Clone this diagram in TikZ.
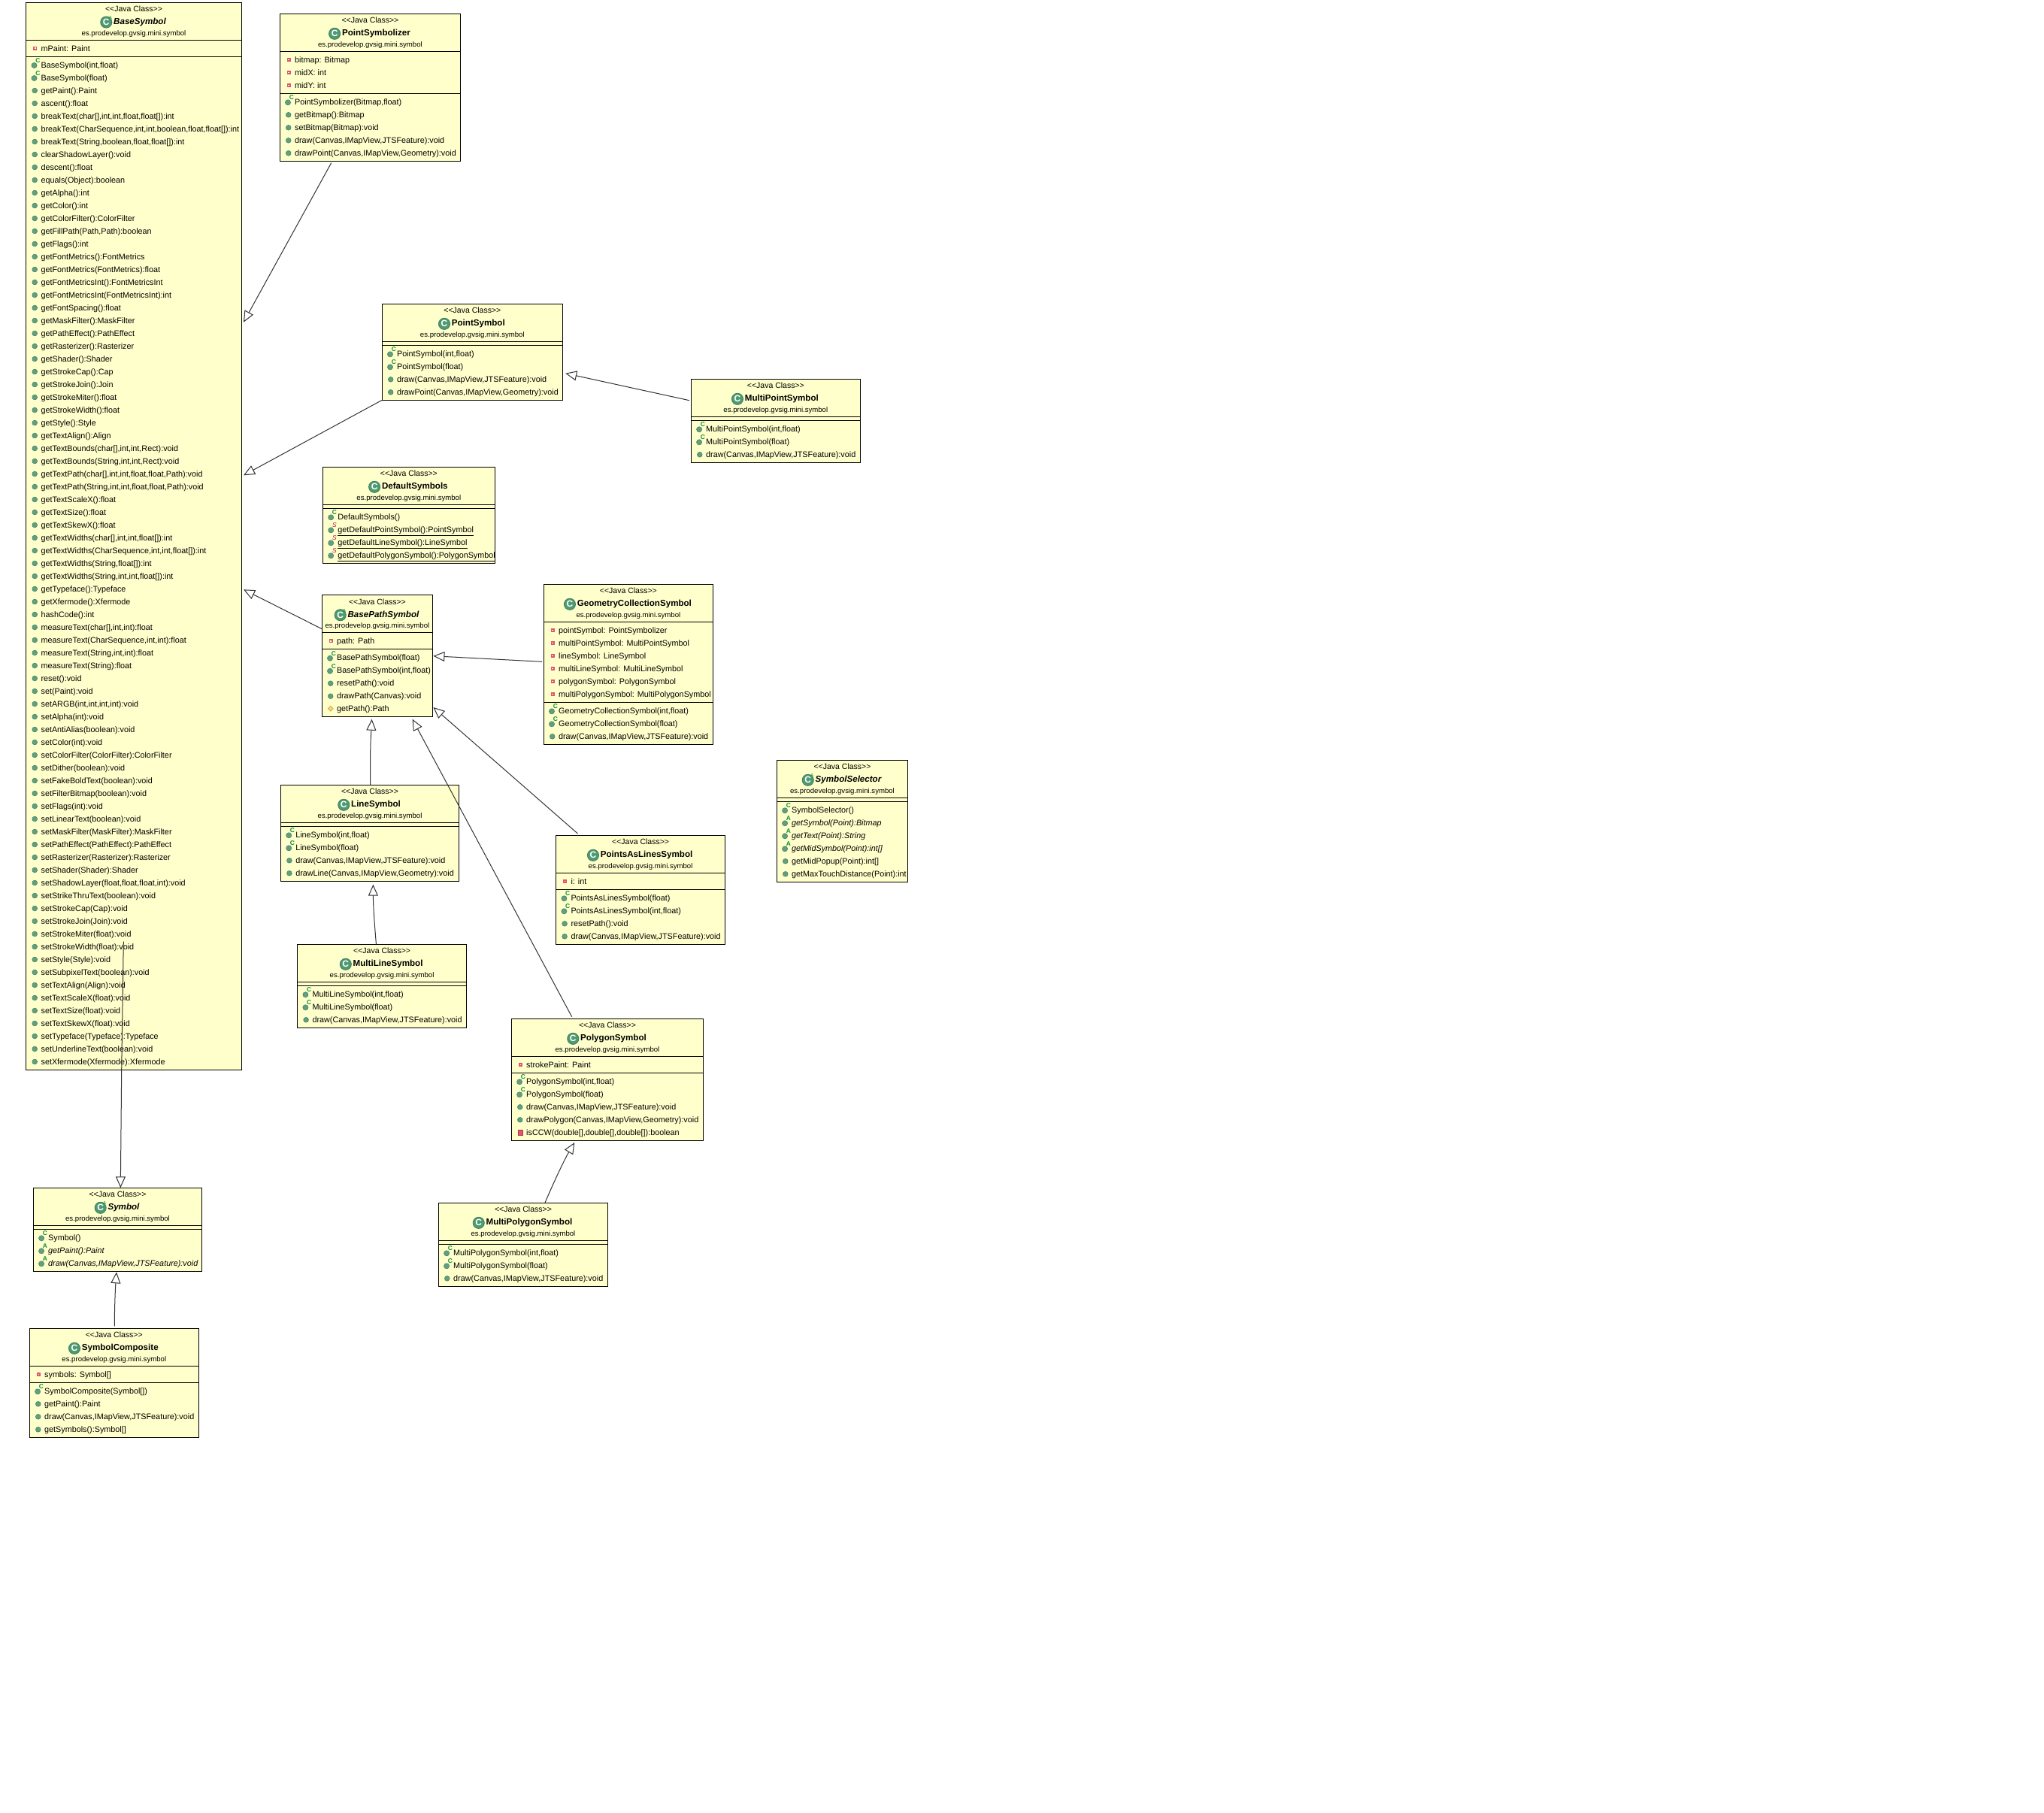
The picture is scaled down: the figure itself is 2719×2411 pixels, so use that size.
\documentclass[tikz,border=0pt]{standalone}
\usepackage{fontspec}
\setmainfont{Liberation Sans}
\usetikzlibrary{calc,arrows.meta}
\definecolor{boxfill}{HTML}{FFFFCC}
\definecolor{dotfill}{HTML}{629F80}
\definecolor{dotline}{HTML}{3E7F5E}
\definecolor{iconfill}{HTML}{4F9A72}
\definecolor{supgreen}{HTML}{128A3A}
\definecolor{supred}{HTML}{B0104E}
\definecolor{privfill}{HTML}{E0566F}
\definecolor{privline}{HTML}{B23A50}
\definecolor{protfill}{HTML}{F5D27A}
\definecolor{protline}{HTML}{C49A3A}
\definecolor{connline}{HTML}{333333}
\newcommand\fsize[1]{\fontsize{#1}{#1}\selectfont}
\tikzset{
  classbox/.style={draw=black,fill=boxfill,line width=0.5pt,inner sep=0pt,outer sep=0pt,anchor=north west},
  rule/.style={draw=black,line width=0.5pt},
  stereo/.style={inner sep=0pt,anchor=base,font=\fsize{5.25}},
  titletext/.style={inner sep=0pt,anchor=base,font=\fsize{5.8}\bfseries},
  pkgtext/.style={inner sep=0pt,anchor=base,font=\fsize{4.8}},
  rowtext/.style={inner sep=0pt,anchor=base west,font=\fsize{5.4}},
  classicon/.style={circle,fill=iconfill,draw=dotline,line width=0.4pt,minimum size=7.6pt,inner sep=0pt,text=white,font=\fsize{6}\bfseries},
  supmark/.style={inner sep=0pt,font=\fsize{4.2}\bfseries,text=supgreen},
  supstatic/.style={inner sep=0pt,font=\fsize{4.2}\itshape,text=supred},
  dot/.style={fill=dotfill,draw=dotline,line width=0.25pt},
  gen/.style={draw=connline,line width=0.5pt,-{Triangle[open,length=7.5pt,width=6.5pt,fill=white]}},
}
% row icons: #1 row node name, #2 box left, #3 row y
\newcommand\icm[3]{\path[dot] (#2+11.5,#3+0.5) circle (3.4);}
\newcommand\icc[3]{\path[dot] (#2+10.8,#3+1) circle (3.6);\node[supmark] (#1-sup) at (#2+15.6,#3-5.5) {C};}
\newcommand\ici[3]{\path[dot] (#2+10.8,#3+1) circle (3.6);\node[supmark] (#1-sup) at (#2+15.6,#3-5.5) {A};}
\newcommand\ics[3]{\path[dot] (#2+10.8,#3+1) circle (3.6);\node[supstatic] (#1-sup) at (#2+15.4,#3-5.5) {S};}
\newcommand\icf[3]{\path[fill=privfill] (#2+9.5,#3-2.5) rectangle (#2+14.5,#3+2.5);\path[fill=white] (#2+11.2,#3-0.8) rectangle (#2+12.8,#3+0.8);}
\newcommand\icv[3]{\path[fill=privfill,draw=privline,line width=0.3pt] (#2+8.5,#3-3) rectangle (#2+14.5,#3+3.5);}
\newcommand\icp[3]{\path[fill=protfill,draw=protline,line width=0.3pt] (#2+11.5,#3-3.5) -- (#2+15,#3) -- (#2+11.5,#3+3.5) -- (#2+8,#3) -- cycle;}
% #1 name, #2 left, #3 top, #4 right, #5 abstract (0/1), #6 title, #7 attrs, #8 methods, #9 rows
\newcommand\umlclass[9]{%
  \pgfmathsetmacro\bw{(#4-#2)*0.5}%
  \pgfmathsetmacro\bh{(60+17*(#7+#8))*0.5}%
  \pgfmathsetmacro\cx{(#2+#4)/2}%
  \pgfmathsetmacro\sa{#3+50}%
  \pgfmathsetmacro\sb{#3+55+17*#7}%
  \node[classbox,minimum width=\bw pt,minimum height=\bh pt] (#1) at (#2,#3) {};
  \draw[rule] (#2,\sa) -- (#4,\sa);
  \draw[rule] (#2,\sb) -- (#4,\sb);
  \node[stereo] (#1-java) at (\cx,#3+12.5) {{<}{<}Java Class{>}{>}};
  \ifnum#5=1
    \node[titletext] (#1-title) at (\cx+8,#3+29.5) {\itshape #6};
  \else
    \node[titletext] (#1-title) at (\cx+8,#3+29.5) {#6};
  \fi
  \node[classicon] (#1-icon) at ($(#1-title.west)+(-9.5,0)$) {C};
  \ifnum#5=1 \node[supmark,font=\fsize{3}] (#1-abs) at ($(#1-icon.center)+(5.5,-6)$) {A};\fi
  \node[pkgtext] (#1-pkg) at (\cx,#3+44) {es.prodevelop.gvsig.mini.symbol};
  \foreach \rk/\rt [count=\ri] in {#9} {
    \pgfmathsetmacro\ry{#3+50+(\ri>#7?16:11)+17*(\ri-1)}
    \csname ic\rk\endcsname{#1-r\ri}{#2}{\ry}
    \node[rowtext] (#1-r\ri) at (#2+19.5,\ry+4) {\rt};
    \ifnum\pdfstrcmp{\rk}{s}=0
      \draw[rule] ($(#1-r\ri.base west)+(0,4)$) -- ($(#1-r\ri.base east)+(0,4)$);
    \fi
  }
}
\begin{document}
\begin{tikzpicture}[x=0.5pt,y=-0.5pt]
\path[fill=white] (0,0) rectangle (2719,2411);
\useasboundingbox (0,0) rectangle (2719,2411);
\umlclass{bs}{34.7}{3}{321.3}{1}{BaseSymbol}{1}{79}{f/{mPaint: Paint},
c/{BaseSymbol(int,float)},c/{BaseSymbol(float)},m/{getPaint():Paint},m/{ascent():float},
m/{breakText(char[],int,int,float,float[]):int},m/{breakText(CharSequence,int,int,boolean,float,float[]):int},
m/{breakText(String,boolean,float,float[]):int},m/{clearShadowLayer():void},m/{descent():float},
m/{equals(Object):boolean},m/{getAlpha():int},m/{getColor():int},m/{getColorFilter():ColorFilter},
m/{getFillPath(Path,Path):boolean},m/{getFlags():int},m/{getFontMetrics():FontMetrics},
m/{getFontMetrics(FontMetrics):float},m/{getFontMetricsInt():FontMetricsInt},
m/{getFontMetricsInt(FontMetricsInt):int},m/{getFontSpacing():float},m/{getMaskFilter():MaskFilter},
m/{getPathEffect():PathEffect},m/{getRasterizer():Rasterizer},m/{getShader():Shader},
m/{getStrokeCap():Cap},m/{getStrokeJoin():Join},m/{getStrokeMiter():float},m/{getStrokeWidth():float},
m/{getStyle():Style},m/{getTextAlign():Align},m/{getTextBounds(char[],int,int,Rect):void},
m/{getTextBounds(String,int,int,Rect):void},m/{getTextPath(char[],int,int,float,float,Path):void},
m/{getTextPath(String,int,int,float,float,Path):void},m/{getTextScaleX():float},m/{getTextSize():float},
m/{getTextSkewX():float},m/{getTextWidths(char[],int,int,float[]):int},
m/{getTextWidths(CharSequence,int,int,float[]):int},m/{getTextWidths(String,float[]):int},
m/{getTextWidths(String,int,int,float[]):int},m/{getTypeface():Typeface},m/{getXfermode():Xfermode},
m/{hashCode():int},m/{measureText(char[],int,int):float},m/{measureText(CharSequence,int,int):float},
m/{measureText(String,int,int):float},m/{measureText(String):float},m/{reset():void},m/{set(Paint):void},
m/{setARGB(int,int,int,int):void},m/{setAlpha(int):void},m/{setAntiAlias(boolean):void},
m/{setColor(int):void},m/{setColorFilter(ColorFilter):ColorFilter},m/{setDither(boolean):void},
m/{setFakeBoldText(boolean):void},m/{setFilterBitmap(boolean):void},m/{setFlags(int):void},
m/{setLinearText(boolean):void},m/{setMaskFilter(MaskFilter):MaskFilter},
m/{setPathEffect(PathEffect):PathEffect},m/{setRasterizer(Rasterizer):Rasterizer},
m/{setShader(Shader):Shader},m/{setShadowLayer(float,float,float,int):void},
m/{setStrikeThruText(boolean):void},m/{setStrokeCap(Cap):void},m/{setStrokeJoin(Join):void},
m/{setStrokeMiter(float):void},m/{setStrokeWidth(float):void},m/{setStyle(Style):void},
m/{setSubpixelText(boolean):void},m/{setTextAlign(Align):void},m/{setTextScaleX(float):void},
m/{setTextSize(float):void},m/{setTextSkewX(float):void},m/{setTypeface(Typeface):Typeface},
m/{setUnderlineText(boolean):void},m/{setXfermode(Xfermode):Xfermode}}
\umlclass{psz}{372.2}{18.3}{612.7}{0}{PointSymbolizer}{3}{5}{f/{bitmap: Bitmap},f/{midX: int},f/{midY: int},
c/{PointSymbolizer(Bitmap,float)},m/{getBitmap():Bitmap},m/{setBitmap(Bitmap):void},
m/{draw(Canvas,IMapView,JTSFeature):void},m/{drawPoint(Canvas,IMapView,Geometry):void}}
\umlclass{pt}{508.2}{404.3}{748.5}{0}{PointSymbol}{0}{4}{c/{PointSymbol(int,float)},c/{PointSymbol(float)},
m/{draw(Canvas,IMapView,JTSFeature):void},m/{drawPoint(Canvas,IMapView,Geometry):void}}
\umlclass{mp}{919.3}{504.3}{1144.4}{0}{MultiPointSymbol}{0}{3}{c/{MultiPointSymbol(int,float)},c/{MultiPointSymbol(float)},
m/{draw(Canvas,IMapView,JTSFeature):void}}
\umlclass{ds}{429.4}{621.3}{658.3}{0}{DefaultSymbols}{0}{4}{c/{DefaultSymbols()},s/{getDefaultPointSymbol():PointSymbol},
s/{getDefaultLineSymbol():LineSymbol},s/{getDefaultPolygonSymbol():PolygonSymbol}}
\umlclass{bp}{428.2}{791.7}{575.7}{1}{BasePathSymbol}{1}{5}{f/{path: Path},c/{BasePathSymbol(float)},
c/{BasePathSymbol(int,float)},m/{resetPath():void},m/{drawPath(Canvas):void},p/{getPath():Path}}
\umlclass{gc}{723.2}{777.3}{948.6}{0}{GeometryCollectionSymbol}{6}{3}{f/{pointSymbol: PointSymbolizer},
f/{multiPointSymbol: MultiPointSymbol},f/{lineSymbol: LineSymbol},f/{multiLineSymbol: MultiLineSymbol},
f/{polygonSymbol: PolygonSymbol},f/{multiPolygonSymbol: MultiPolygonSymbol},
c/{GeometryCollectionSymbol(int,float)},c/{GeometryCollectionSymbol(float)},m/{draw(Canvas,IMapView,JTSFeature):void}}
\umlclass{ss}{1033.3}{1011.3}{1207.7}{1}{SymbolSelector}{0}{6}{c/{SymbolSelector()},
i/{\itshape getSymbol(Point):Bitmap},i/{\itshape getText(Point):String},i/{\itshape getMidSymbol(Point):int[]},
m/{getMidPopup(Point):int[]},m/{getMaxTouchDistance(Point):int}}
\umlclass{ls}{373.4}{1044.3}{610.7}{0}{LineSymbol}{0}{4}{c/{LineSymbol(int,float)},c/{LineSymbol(float)},
m/{draw(Canvas,IMapView,JTSFeature):void},m/{drawLine(Canvas,IMapView,Geometry):void}}
\umlclass{pl}{739.6}{1111.3}{964.6}{0}{PointsAsLinesSymbol}{1}{4}{f/{i: int},c/{PointsAsLinesSymbol(float)},
c/{PointsAsLinesSymbol(int,float)},m/{resetPath():void},m/{draw(Canvas,IMapView,JTSFeature):void}}
\umlclass{ml}{395.6}{1256.3}{620.6}{0}{MultiLineSymbol}{0}{3}{c/{MultiLineSymbol(int,float)},c/{MultiLineSymbol(float)},
m/{draw(Canvas,IMapView,JTSFeature):void}}
\umlclass{pg}{680.3}{1355.3}{935.7}{0}{PolygonSymbol}{1}{5}{f/{strokePaint: Paint},c/{PolygonSymbol(int,float)},
c/{PolygonSymbol(float)},m/{draw(Canvas,IMapView,JTSFeature):void},m/{drawPolygon(Canvas,IMapView,Geometry):void},
v/{isCCW(double[],double[],double[]):boolean}}
\umlclass{mg}{583.3}{1600.3}{808.7}{0}{MultiPolygonSymbol}{0}{3}{c/{MultiPolygonSymbol(int,float)},c/{MultiPolygonSymbol(float)},
m/{draw(Canvas,IMapView,JTSFeature):void}}
\umlclass{sy}{44.3}{1580.3}{268.7}{1}{Symbol}{0}{3}{c/{Symbol()},i/{\itshape getPaint():Paint},i/{\itshape draw(Canvas,IMapView,JTSFeature):void}}
\umlclass{sc}{39.3}{1767.3}{264.3}{0}{SymbolComposite}{1}{4}{f/{symbols: Symbol[]},c/{SymbolComposite(Symbol[])},
m/{getPaint():Paint},m/{draw(Canvas,IMapView,JTSFeature):void},m/{getSymbols():Symbol[]}}
% connectors
\draw[gen] ($(psz.south west)+(68.5,2.4)$) -- ($(bs.north east)+(2.7,425.7)$);
\draw[gen] (pt.south west) -- ($(bs.north east)+(2.7,629.3)$);
\draw[gen] ($(bp.north west)+(0,45)$) -- ($(bs.north east)+(2.7,781.3)$);
\draw[gen] ($(mp.north west)+(-2.4,28.4)$) -- ($(pt.north east)+(3.7,92.4)$);
\draw[gen] ($(gc.north west)+(-2.2,103)$) -- ($(bp.north east)+(0.7,81)$);
\draw[gen] ($(pl.north west)+(28.9,-2.3)$) -- ($(bp.north east)+(0.7,149.3)$);
\draw[gen] ($(ls.north west)+(119.1,0)$) .. controls +(0,-60) and +(-1.5,30) .. ($(bp.south west)+(66.4,3)$);
\draw[gen] ($(pg.north west)+(80.4,-2.6)$) -- ($(bp.south west)+(120.4,3)$);
\draw[gen] ($(ml.north west)+(104.8,-0.3)$) .. controls +(-2,-25) and +(0,30) .. ($(ls.south west)+(123,4.4)$);
\draw[gen] ($(mg.north west)+(141.7,-0.3)$) .. controls +(15,-35) and +(-12,20) .. ($(pg.south west)+(84,2.7)$);
\draw[gen] ($(bs.north west)+(129.6,1249.7)$) -- ($(bs.south west)+(127,1)$) -- ($(sy.north west)+(116,0)$);
\draw[gen] ($(sc.north west)+(113,-3)$) .. controls +(0,-25) and +(-1.5,20) .. ($(sy.south west)+(110.7,1)$);
\end{tikzpicture}
\end{document}
